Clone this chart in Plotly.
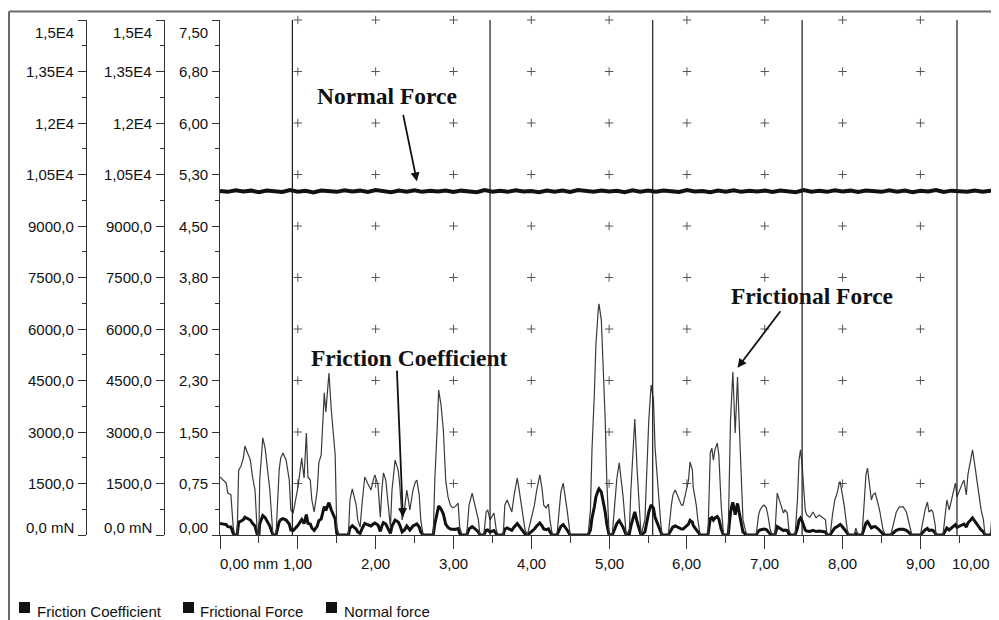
import plotly.graph_objects as go

# ---------------- data ----------------
position_mm = [
    0.00,0.04,0.08,0.10,0.14,0.17,0.19,0.22,0.24,0.27,0.30,0.32,0.35,0.39,0.42,0.45,0.48,0.50,0.51,0.54,
    0.55,0.58,0.60,0.64,0.68,0.72,0.76,0.78,0.81,0.85,0.89,0.91,0.94,0.96,1.00,1.03,1.05,1.08,1.11,1.13,
    1.16,1.18,1.21,1.25,1.27,1.30,1.32,1.34,1.36,1.39,1.40,1.43,1.45,1.48,1.50,1.53,
    1.65,1.67,1.70,1.72,1.75,1.77,1.80,1.83,1.86,1.90,1.94,1.97,1.99,2.03,2.06,2.08,2.10,2.13,2.16,2.19,
    2.21,2.25,2.29,2.31,2.34,2.37,2.40,2.44,2.48,2.51,2.53,2.56,2.58,2.61,
    2.74,2.76,2.79,2.81,2.84,2.87,2.90,2.93,2.96,2.99,3.02,3.06,3.08,3.11,
    3.17,3.20,3.24,3.28,3.32,3.34,
    3.39,3.42,3.44,3.47,3.50,3.52,3.55,3.57,
    3.64,3.66,3.69,3.73,3.75,3.78,3.82,3.84,3.87,3.89,3.92,3.95,
    4.00,4.04,4.07,4.11,4.14,4.16,4.19,4.22,4.24,4.27,
    4.33,4.36,4.38,4.41,4.43,4.46,4.50,
    4.73,4.76,4.78,4.81,4.83,4.86,4.87,4.90,4.92,4.95,4.97,5.00,
    5.04,5.08,5.10,5.13,5.15,5.18,5.22,
    5.26,5.28,5.31,5.33,5.36,5.39,5.41,
    5.46,5.49,5.51,5.54,5.57,5.59,5.62,5.66,5.68,
    5.76,5.80,5.82,5.85,5.89,5.93,5.95,5.99,6.02,6.04,6.07,6.08,6.12,6.14,6.17,
    6.27,6.30,6.32,6.34,6.36,6.39,6.41,6.44,6.47,
    6.53,6.56,6.58,6.59,6.62,6.65,6.67,6.70,6.72,6.75,6.77,
    6.89,6.92,6.94,6.97,6.99,7.02,7.04,7.07,7.10,
    7.13,7.16,7.19,7.21,7.24,7.26,7.29,7.31,7.34,
    7.39,7.42,7.44,7.46,7.48,7.49,7.52,7.54,7.58,7.62,7.66,7.70,7.74,7.78,7.80,
    7.84,7.87,7.90,7.93,7.96,7.97,7.99,8.02,8.06,8.08,
    8.15,8.17,8.20,
    8.25,8.28,8.30,8.32,8.34,8.37,8.39,8.42,8.46,8.48,8.52,8.55,
    8.62,8.65,8.69,8.73,8.78,8.82,8.86,8.89,
    9.00,9.02,9.06,9.09,9.11,9.14,9.16,9.19,9.20,
    9.29,9.32,9.34,9.37,9.41,9.45,9.47,9.50,9.54,9.56,9.59,9.61,9.64,9.67,9.69,9.72,9.74,9.78,9.81,9.83,
    9.90,9.92,9.96,9.99,10.01,
]

frictional_force_mN = [
    1690,1600,1510,1220,1170,230,0,0,1890,2010,2240,2590,2420,2180,1660,1310,0,0,1600,2480,
    2830,2530,2130,1310,0,0,1890,2240,2390,2180,1600,730,640,870,1370,1890,2240,1660,2970,1690,
    1600,1020,670,1310,2100,2330,3260,4140,3580,4520,4720,3640,3060,2330,230,0,
    0,1020,1340,1110,870,440,230,1020,1690,1490,1310,1600,1750,1460,520,1310,1810,1600,870,230,
    1310,2180,1890,1460,440,730,1310,730,1310,1540,1600,1170,440,0,
    0,1600,3060,4220,3790,3060,1600,1110,870,790,820,930,230,0,
    0,870,1220,870,440,0,
    0,670,730,440,580,640,150,0,
    0,870,1020,790,670,1170,1660,1370,870,640,150,0,
    440,870,1310,1750,1310,870,790,900,440,0,
    0,730,1250,1510,1220,730,0,
    0,730,2480,4080,5530,6550,6730,6260,5100,3350,1600,0,
    0,1110,1660,2100,1750,1110,0,
    150,1310,2480,3380,1890,580,0,
    440,1980,3350,4370,3930,2560,1600,440,0,
    0,870,1170,1310,1080,870,870,1310,1600,2130,1890,1400,870,440,0,
    0,2390,2530,2180,2480,2680,2330,870,0,
    0,3350,4370,4750,2970,4600,3350,1310,440,150,0,
    0,580,730,840,870,790,580,150,0,
    0,1220,1020,870,640,730,640,150,0,
    0,1020,2180,2480,2040,1690,730,580,520,670,500,580,520,440,0,
    0,580,1020,1220,1540,1540,1310,870,150,0,
    0,200,0,
    0,1020,1750,1950,1600,1020,1170,1220,870,670,150,0,
    0,290,670,820,820,670,290,0,
    0,290,730,960,670,730,670,290,0,
    0,580,1020,730,1080,1510,1110,1310,1510,1600,1170,1750,2100,2480,2180,1660,1310,730,440,0,
    0,580,1080,1510,1600,
]

friction_coefficient = [
    0.169,0.160,0.151,0.122,0.117,0.023,0,0,0.189,0.201,0.224,0.259,0.242,0.218,0.166,0.131,0,0,0.160,0.248,
    0.283,0.253,0.213,0.131,0,0,0.189,0.224,0.239,0.218,0.160,0.073,0.064,0.087,0.137,0.189,0.224,0.166,0.297,0.169,
    0.160,0.102,0.067,0.131,0.210,0.233,0.326,0.414,0.358,0.452,0.472,0.364,0.306,0.233,0.023,0,
    0,0.102,0.134,0.111,0.087,0.044,0.023,0.102,0.169,0.149,0.131,0.160,0.175,0.146,0.052,0.131,0.181,0.160,0.087,0.023,
    0.131,0.218,0.189,0.146,0.044,0.073,0.131,0.073,0.131,0.154,0.160,0.117,0.044,0,
    0,0.160,0.306,0.422,0.379,0.306,0.160,0.111,0.087,0.079,0.082,0.093,0.023,0,
    0,0.087,0.122,0.087,0.044,0,
    0,0.067,0.073,0.044,0.058,0.064,0.015,0,
    0,0.087,0.102,0.079,0.067,0.117,0.166,0.137,0.087,0.064,0.015,0,
    0.044,0.087,0.131,0.175,0.131,0.087,0.079,0.090,0.044,0,
    0,0.073,0.125,0.151,0.122,0.073,0,
    0,0.073,0.248,0.408,0.553,0.655,0.673,0.626,0.510,0.335,0.160,0,
    0,0.111,0.166,0.210,0.175,0.111,0,
    0.015,0.131,0.248,0.338,0.189,0.058,0,
    0.044,0.198,0.335,0.437,0.393,0.256,0.160,0.044,0,
    0,0.087,0.117,0.131,0.108,0.087,0.087,0.131,0.160,0.213,0.189,0.140,0.087,0.044,0,
    0,0.239,0.253,0.218,0.248,0.268,0.233,0.087,0,
    0,0.335,0.437,0.475,0.297,0.460,0.335,0.131,0.044,0.015,0,
    0,0.058,0.073,0.084,0.087,0.079,0.058,0.015,0,
    0,0.122,0.102,0.087,0.064,0.073,0.064,0.015,0,
    0,0.102,0.218,0.248,0.204,0.169,0.073,0.058,0.052,0.067,0.050,0.058,0.052,0.044,0,
    0,0.058,0.102,0.122,0.154,0.154,0.131,0.087,0.015,0,
    0,0.020,0,
    0,0.102,0.175,0.195,0.160,0.102,0.117,0.122,0.087,0.067,0.015,0,
    0,0.029,0.067,0.082,0.082,0.067,0.029,0,
    0,0.029,0.073,0.096,0.067,0.073,0.067,0.029,0,
    0,0.058,0.102,0.073,0.108,0.151,0.111,0.131,0.151,0.160,0.117,0.175,0.210,0.248,0.218,0.166,0.131,0.073,0.044,0,
    0,0.058,0.108,0.151,0.160,
]

normal_position_mm = [
    0.0,0.1,0.2,0.3,0.4,0.5,0.6,0.7,0.8,0.9,1.0,1.1,1.2,1.3,1.4,1.5,1.6,1.7,1.8,1.9,
    2.0,2.1,2.2,2.3,2.4,2.5,2.6,2.7,2.8,2.9,3.0,3.1,3.2,3.3,3.4,3.5,3.6,3.7,3.8,3.9,
    4.0,4.1,4.2,4.3,4.4,4.5,4.6,4.7,4.8,4.9,5.0,5.1,5.2,5.3,5.4,5.5,5.6,5.7,5.8,5.9,
    6.0,6.1,6.2,6.3,6.4,6.5,6.6,6.7,6.8,6.9,7.0,7.1,7.2,7.3,7.4,7.5,7.6,7.7,7.8,7.9,
    8.0,8.1,8.2,8.3,8.4,8.5,8.6,8.7,8.8,8.9,9.0,9.1,9.2,9.3,9.4,9.5,9.6,9.7,9.8,9.9,10.0,
]
normal_force_mN = [
    10020,9995,10040,10005,10030,9985,10035,10010,9990,10045,
    10000,10025,9980,10035,10015,9995,10040,10005,10030,9990,
    10045,10010,9985,10030,10000,10040,9995,10025,10005,10035,
    9990,10030,10010,9985,10045,10000,10025,9995,10040,10005,
    10020,9985,10035,10000,10030,9990,10045,10010,9995,10035,
    10005,10025,9985,10040,10000,10030,9995,10035,10010,9990,
    10045,10005,10020,9985,10035,10000,10040,9995,10025,10005,
    10030,9990,10035,10010,9985,10045,10000,10025,9995,10040,
    10005,10030,9990,10035,10015,9995,10040,10000,10030,9985,
    10025,10005,10045,9990,10030,10010,9995,10035,10000,10025,10015,
]

segment_marks_mm = [0.93, 3.47, 5.56, 7.48, 9.47]

x_tick_vals = [0, 1, 2, 3, 4, 5, 6, 7, 8, 9, 10]
x_tick_text = ["0,00 mm", "1,00", "2,00", "3,00", "4,00", "5,00", "6,00", "7,00", "8,00", "9,00", "10,00"]

force_tick_vals = [0, 1500, 3000, 4500, 6000, 7500, 9000, 10500, 12000, 13500, 15000]
force_tick_text = ["0,0 mN", "1500,0", "3000,0", "4500,0", "6000,0", "7500,0", "9000,0",
                   "1,05E4", "1,2E4", "1,35E4", "1,5E4"]

coef_tick_vals = [0, 0.75, 1.5, 2.25, 3.0, 3.75, 4.5, 5.25, 6.0, 6.75, 7.5]
coef_tick_text = ["0,00", "0,75", "1,50", "2,30", "3,00", "3,80", "4,50", "5,30", "6,00", "6,80", "7,50"]

grid_x = [1, 2, 3, 4, 5, 6, 7, 8, 9, 10]
grid_force = [1500, 3000, 4500, 6000, 7500, 9000, 10500, 12000, 13500, 15000]

legend_names = ["Friction Coefficient", "Frictional Force", "Normal force"]

assert len(position_mm) == len(frictional_force_mN) == len(friction_coefficient)
assert len(normal_position_mm) == len(normal_force_mN)

# ---------------- layout helpers ----------------
# the page body has an 8 px margin, so the figure is drawn 8 px in from the window corner
OFF = 8
W, H = 999 - OFF, 620 - OFF
PLOT_BOTTOM = 535           # window pixel of the x axis
PLOT_TOP = 20               # window pixel of the plot top
X_LEFT = 220                # window pixel of the plot left edge
M_T = PLOT_TOP - OFF
M_B = H - (PLOT_BOTTOM - OFF)
PLOT_H = PLOT_BOTTOM - PLOT_TOP


def px(x):
    """window pixel x -> paper fraction"""
    return (x - OFF) / W


def py(y):
    """window pixel y -> paper fraction"""
    return (PLOT_BOTTOM - y) / PLOT_H


SANS = "Liberation Sans, Arial, sans-serif"
SERIF = "Liberation Serif, Times New Roman, serif"
AX = "#333333"

fig = go.Figure()

# dotted "+" grid
gx, gy = [], []
for f in grid_force:
    for xv in grid_x:
        gx.append(xv)
        gy.append(f)
fig.add_trace(go.Scatter(x=gx, y=gy, yaxis="y2", mode="markers",
                         marker=dict(symbol="cross-thin", size=6, line=dict(width=1, color="#555555")),
                         cliponaxis=False, hoverinfo="skip", showlegend=False))

fig.add_trace(go.Scatter(x=position_mm, y=frictional_force_mN, yaxis="y3", mode="lines",
                         line=dict(color="#3a3a3a", width=1.2), name=legend_names[1], showlegend=False))
fig.add_trace(go.Scatter(x=position_mm, y=friction_coefficient, yaxis="y", mode="lines",
                         line=dict(color="#111111", width=3), name=legend_names[0], showlegend=False))
fig.add_trace(go.Scatter(x=normal_position_mm, y=normal_force_mN, yaxis="y2", mode="lines",
                         line=dict(color="#111111", width=4), name=legend_names[2], showlegend=False))

common_y = dict(showgrid=False, zeroline=False, showline=True, linecolor=AX, linewidth=1.3,
                ticks="outside", tickcolor=AX, tickwidth=1.2, showticklabels=False)

fig.update_layout(
    width=W, height=H,
    margin=dict(l=0, r=0, t=M_T, b=M_B),
    paper_bgcolor="white", plot_bgcolor="white",
    showlegend=False,
    xaxis=dict(domain=[px(X_LEFT), 1], range=[0, 10.01], showgrid=False, zeroline=False,
               showline=True, linecolor=AX, linewidth=1.3, ticks="outside", tickcolor=AX,
               tickwidth=1.2, ticklen=13, tickmode="linear", tick0=0, dtick=1,
               minor=dict(ticks="outside", ticklen=7, dtick=0.5, tickcolor=AX, tickwidth=1.2),
               showticklabels=False),
    yaxis=dict(range=[0, 7.5], anchor="x", tickmode="linear", tick0=0, dtick=0.75, ticklen=7,
               minor=dict(ticks="outside", ticklen=4, dtick=0.375, tickcolor=AX, tickwidth=1.2),
               **common_y),
    yaxis2=dict(range=[0, 15000], anchor="free", position=px(86), overlaying="y",
                tickmode="linear", tick0=0, dtick=1500, ticklen=8,
                minor=dict(ticks="outside", ticklen=4, dtick=750, tickcolor=AX, tickwidth=1.2),
                **common_y),
    yaxis3=dict(range=[0, 15000], anchor="free", position=px(164), overlaying="y",
                tickmode="linear", tick0=0, dtick=1500, ticklen=8,
                minor=dict(ticks="outside", ticklen=4, dtick=750, tickcolor=AX, tickwidth=1.2),
                **common_y),
)

shapes = []
# instrument segment marker lines
for m in segment_marks_mm:
    shapes.append(dict(type="line", xref="x", yref="paper", x0=m, x1=m, y0=0, y1=1,
                       line=dict(color="#1a1a1a", width=1.2)))
# outer frame
shapes.append(dict(type="line", xref="paper", yref="paper", x0=px(9), x1=1.01, y0=py(11.5), y1=py(11.5),
                   line=dict(color="#6a6a6a", width=2)))
shapes.append(dict(type="line", xref="paper", yref="paper", x0=px(9), x1=px(9), y0=py(11.5), y1=py(625),
                   line=dict(color="#6a6a6a", width=2)))

annotations = []
lab_font = dict(family=SANS, size=15, color="#111111")
n = len(force_tick_vals)
for i, (v, t) in enumerate(zip(force_tick_vals, force_tick_text)):
    shift = -12 if i == n - 1 else (8 if i == 0 else 0)
    for axpos in (86, 164):
        annotations.append(dict(xref="paper", yref="y2", x=px(axpos), y=v, text=t, showarrow=False,
                                xanchor="right", yanchor="middle", xshift=-10, yshift=shift, font=lab_font))
for i, (v, t) in enumerate(zip(coef_tick_vals, coef_tick_text)):
    shift = -12 if i == n - 1 else (8 if i == 0 else 0)
    annotations.append(dict(xref="paper", yref="y", x=px(X_LEFT), y=v, text=t, showarrow=False,
                            xanchor="right", yanchor="middle", xshift=-10, yshift=shift, font=lab_font))
for i, (v, t) in enumerate(zip(x_tick_vals, x_tick_text)):
    if i == 0:
        anc, sh = "left", -2
    elif i == len(x_tick_vals) - 1:
        anc, sh = "right", -6
    else:
        anc, sh = "center", 0
    annotations.append(dict(xref="x", yref="paper", x=v, y=py(563), text=t, showarrow=False,
                            xanchor=anc, yanchor="middle", xshift=sh, font=lab_font))

# custom legend (filled squares + names)
legend_sq = [(19, 30), (183, 194), (326, 337)]
legend_tx = [35, 198, 342]
for name, (a, b), tx in zip(legend_names, legend_sq, legend_tx):
    shapes.append(dict(type="rect", xref="paper", yref="paper", x0=px(a), x1=px(b), y0=py(602), y1=py(613),
                       fillcolor="#111111", line=dict(width=0)))
    annotations.append(dict(xref="paper", yref="paper", x=px(tx), y=py(611), text=name, showarrow=False,
                            xanchor="left", yanchor="middle", font=lab_font))

# callout labels
call_font = dict(family=SERIF, size=23.5, color="#111111")
annotations += [
    dict(xref="paper", yref="paper", x=px(387), y=py(96), text="<b>Normal Force</b>", showarrow=False,
         xanchor="center", yanchor="middle", font=call_font),
    dict(xref="paper", yref="paper", x=px(812), y=py(296), text="<b>Frictional Force</b>", showarrow=False,
         xanchor="center", yanchor="middle", font=call_font),
    dict(xref="paper", yref="paper", x=px(409), y=py(358), text="<b>Friction Coefficient</b>", showarrow=False,
         xanchor="center", yanchor="middle", font=call_font),
    # arrows
    dict(xref="x", yref="y2", x=2.53, y=10300, ax=-14, ay=-68, text="", showarrow=True,
         arrowhead=2, arrowsize=1, arrowwidth=1.8, arrowcolor="#111111", standoff=0),
    dict(xref="x", yref="y2", x=6.65, y=4870, ax=44, ay=-58, text="", showarrow=True,
         arrowhead=2, arrowsize=1, arrowwidth=1.8, arrowcolor="#111111", standoff=0),
    dict(xref="x", yref="y2", x=2.35, y=520, ax=-6, ay=-148, text="", showarrow=True,
         arrowhead=2, arrowsize=1, arrowwidth=1.8, arrowcolor="#111111", standoff=0),
]

fig.update_layout(shapes=shapes, annotations=annotations)
fig.write_html("out.html")
